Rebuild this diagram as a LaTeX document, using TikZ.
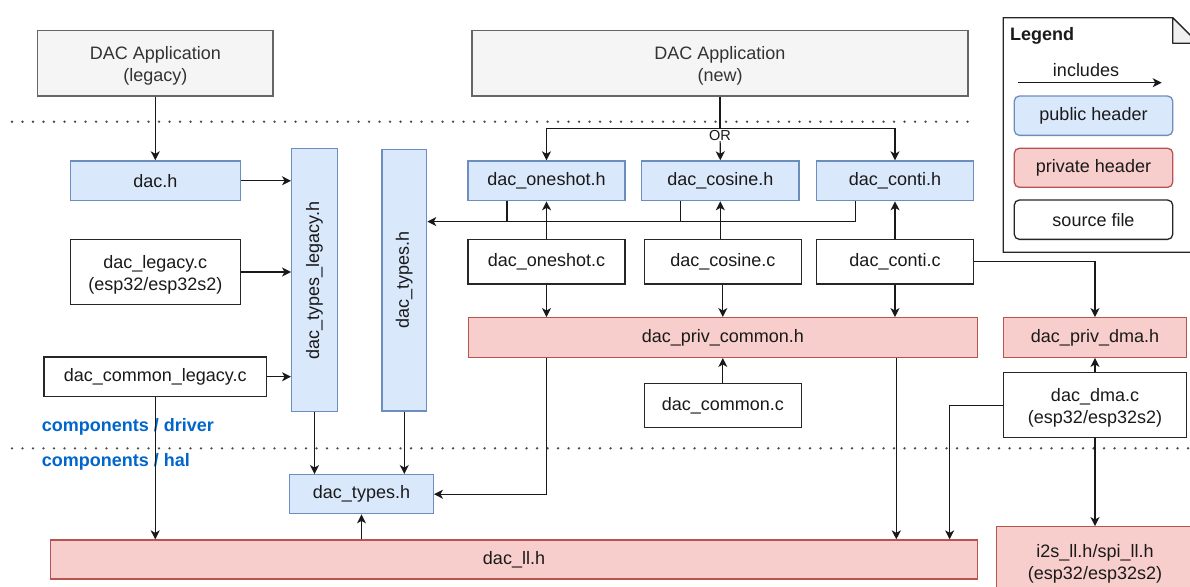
\documentclass[tikz,border=0pt]{standalone}
\usepackage{fontspec}
\setmainfont{Liberation Sans}
\usetikzlibrary{arrows.meta,calc}
\definecolor{pubfill}{HTML}{DAE8FC}
\definecolor{pubdraw}{HTML}{6C8EBF}
\definecolor{privfill}{HTML}{F8CECC}
\definecolor{privdraw}{HTML}{B85450}
\definecolor{appfill}{HTML}{F5F5F5}
\definecolor{appdraw}{HTML}{666666}
\definecolor{apptext}{HTML}{333333}
\definecolor{compblue}{HTML}{0066CC}
\definecolor{txt}{HTML}{1A1A1A}
\newcommand{\dnstrut}{\rule{0pt}{19pt}}
\tikzset{
 base/.style={rectangle, inner sep=0pt, line width=1.3pt, align=center, font=\fontsize{18}{22}\selectfont, text=txt},
 app/.style={base, fill=appfill, draw=appdraw, text=apptext},
 pub/.style={base, fill=pubfill, draw=pubdraw},
 priv/.style={base, fill=privfill, draw=privdraw},
 src/.style={base, fill=white, draw=black!85},
 arr/.style={-{Stealth[length=9pt,width=9pt,inset=2.5pt]}, line width=1.2pt, draw=black!90},
 ln/.style={line width=1.2pt, draw=black!90},
 sepline/.style={line width=2.6pt, draw=black!70, line cap=round, dash pattern=on 0pt off 10.5pt},
 layer/.style={font=\bfseries\fontsize{18}{22}\selectfont, text=compblue, anchor=west, inner sep=0pt},
 vlab/.style={rotate=90, font=\fontsize{18}{22}\selectfont, text=txt, inner sep=0pt},
}
\begin{document}
\begin{tikzpicture}[x=1pt,y=-1pt]
\useasboundingbox (0,0) rectangle (1190,586);
\clip (0,0) rectangle (1190,586);

% separators
\coordinate (s1a) at (12,121.7); \coordinate (s1b) at (975,121.7);
\coordinate (s2a) at (12,448.3); \coordinate (s2b) at (1190,448.3);
\draw[sepline] (s1a) -- (s1b);
\draw[sepline] (s2a) -- (s2b);

% layer labels
\node[layer] (drv) at (41.7,426.7) {components / driver};
\node[layer] (hal) at (41.7,461.7) {components / hal};

% applications
\node[app, minimum width=235.3pt, minimum height=65.3pt] (appL) at (155.3,63.3) {\dnstrut DAC Application\\(legacy)};
\node[app, minimum width=496pt, minimum height=65.3pt] (appN) at (720,63.3) {\dnstrut DAC Application\\(new)};

% left column
\node[pub, minimum width=170pt, minimum height=39.7pt] (dach) at (155.3,180.8) {dac.h};
\node[src, minimum width=170pt, minimum height=65.4pt] (legc) at (155.3,272) {\dnstrut dac\_legacy.c\\(esp32/esp32s2)};
\node[src, minimum width=222.3pt, minimum height=39.3pt] (comlegc) at (155.2,376.7) {dac\_common\_legacy.c};

% vertical headers
\node[pub, minimum width=45.6pt, minimum height=263pt, label={[vlab]center:dac\_types\_legacy.h}] (tleg) at (314.5,280.2) {};
\node[pub, minimum width=44.7pt, minimum height=261.3pt, label={[vlab]center:dac\_types.h}] (tvert) at (404.3,280.3) {};

% new driver headers
\node[pub, minimum width=157pt, minimum height=39.7pt] (osh) at (546.5,180.8) {dac\_oneshot.h};
\node[pub, minimum width=157.3pt, minimum height=39.7pt] (cosh) at (720.3,180.8) {dac\_cosine.h};
\node[pub, minimum width=156.6pt, minimum height=39.7pt] (conth) at (895,180.8) {dac\_conti.h};

% sources
\node[src, minimum width=157pt, minimum height=44.7pt] (osc) at (546.5,261.7) {dac\_oneshot.c};
\node[src, minimum width=157pt, minimum height=44.7pt] (cosc) at (722.8,261.7) {dac\_cosine.c};
\node[src, minimum width=156.6pt, minimum height=44.7pt] (contc) at (895,261.7) {dac\_conti.c};

% private
\node[priv, minimum width=509pt, minimum height=39.6pt] (privc) at (722.8,337.5) {dac\_priv\_common.h};
\node[src, minimum width=157pt, minimum height=44pt] (comc) at (722.8,405.3) {dac\_common.c};
\node[priv, minimum width=183.4pt, minimum height=39.6pt] (privdma) at (1095,337.5) {dac\_priv\_dma.h};
\node[src, minimum width=183.4pt, minimum height=65pt] (dmac) at (1095,405.2) {\dnstrut dac\_dma.c\\(esp32/esp32s2)};

% hal
\node[pub, minimum width=143.6pt, minimum height=39pt] (typesh) at (361.5,494.2) {dac\_types.h};
\node[priv, minimum width=926.6pt, minimum height=39pt] (llh) at (514,559.5) {dac\_ll.h};
\node[priv, minimum width=196.6pt, minimum height=68pt] (i2s) at (1095,560.7) {\dnstrut i2s\_ll.h/spi\_ll.h\\(esp32/esp32s2)};

% legend
\draw[line width=1.3pt, draw=black!85, fill=white] (1003.3,17.7) -- (1172.7,17.7) -- (1198.3,43.3) -- (1198.3,252.3) -- (1003.3,252.3) -- cycle;
\draw[line width=1.3pt, draw=black!85, fill=gray!12, line join=round] (1172.7,17.7) -- (1172.7,43.3) -- (1198.3,43.3) -- cycle;
\node[font=\bfseries\fontsize{18}{22}\selectfont, text=txt, anchor=west, inner sep=0pt] (legt) at (1010,36) {Legend};
\node[base] (inct) at (1086,70) {includes};
\coordinate (la) at (1018.3,82.7); \coordinate (lb) at (1161.7,82.7);
\draw[arr] (la) -- (lb);
\node[pub, rounded corners=5pt, minimum width=158.4pt, minimum height=39.3pt] (lpub) at (1093.5,115.7) {public header};
\node[priv, rounded corners=5pt, minimum width=158.4pt, minimum height=39pt] (lpriv) at (1093.5,167.8) {private header};
\node[src, rounded corners=5pt, minimum width=158.4pt, minimum height=39.3pt] (lsrc) at (1093.5,219.7) {source file};

% connectors: applications
\draw[arr] (appL.south) -- (dach.north);
\coordinate (orj) at (720,128.3);
\draw[ln] (appN.south) -- (orj);
\draw[arr] (orj) -| (osh.north);
\draw[arr] (orj) -| (conth.north);
\draw[arr] (orj) -- node[pos=0.22, fill=white, inner sep=1pt, font=\fontsize{14.5}{16}\selectfont, text=txt] (ortxt) {OR} (cosh.north);

% legacy side
\draw[arr] (dach.east) -- (dach.east -| tleg.west);
\draw[arr] (legc.east) -- (legc.east -| tleg.west);
\draw[arr] (comlegc.east) -- (comlegc.east -| tleg.west);
\draw[arr] (comlegc.south) -- (comlegc.south |- llh.north);
\draw[arr] (tleg.south) -- (tleg.south |- typesh.north);
\draw[arr] (tvert.south) -- (tvert.south |- typesh.north);
\draw[arr] (typesh.south |- llh.north) -- (typesh.south);

% headers -> dac_types.h (vertical)
\coordinate (oshb) at ($(osh.south west)!0.25!(osh.south east)$);
\coordinate (coshb) at ($(cosh.south west)!0.25!(cosh.south east)$);
\coordinate (conthb) at ($(conth.south west)!0.25!(conth.south east)$);
\coordinate (busr) at ($(conthb)+(0,20.3)$);
\draw[ln] (oshb) -- ++(0,20.3);
\draw[ln] (coshb) -- ++(0,20.3);
\draw[arr] (conthb) -- (busr) -- (busr -| tvert.east);

% sources -> headers
\draw[arr] (osc.north) -- (osh.south);
\draw[arr] (osc.north -| cosh.south) -- (cosh.south);
\draw[arr] (contc.north) -- (conth.south);

% sources -> private common
\draw[arr] (osc.south) -- (osc.south |- privc.north);
\draw[arr] (cosc.south) -- (cosc.south |- privc.north);
\draw[arr] (contc.south) -- (contc.south |- privc.north);
\draw[arr] (comc.north) -- (comc.north |- privc.south);
\draw[arr] (contc.east) -| (privdma.north);

% private common -> hal
\draw[arr] (privc.south -| osc.south) |- (typesh.east);
\draw[arr] ($(privc.south -| contc.south)+(1.3,0)$) -- ($(contc.south |- llh.north)+(1.3,0)$);

% dma
\draw[arr] (dmac.north) -- (privdma.south);
\coordinate (dmadrop) at ($(llh.north east)+(-28.3,0)$);
\draw[arr] (dmac.west) -| (dmadrop);
\draw[arr] (dmac.south) -- (i2s.north);
\end{tikzpicture}
\end{document}
